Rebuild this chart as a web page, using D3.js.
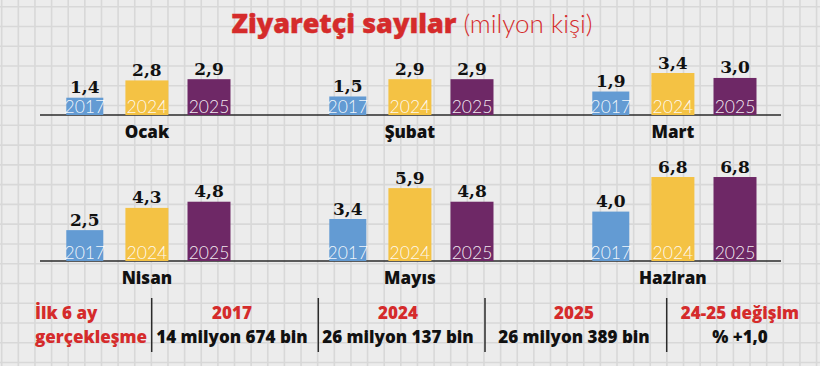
<!DOCTYPE html>
<html><head><meta charset="utf-8">
<script src="https://cdn.jsdelivr.net/npm/d3@7"></script>
<style>html,body{margin:0;padding:0;background:#ececec;}svg{display:block;}</style>
</head><body>
<svg id="c" width="820" height="366"></svg>
<script>
// ---- data ----
const months = ["Ocak", "Şubat", "Mart", "Nisan", "Mayıs", "Haziran"];
const years = ["2017", "2024", "2025"];
const v2017 = [1.4, 1.5, 1.9, 2.5, 3.4, 4.0];
const v2024 = [2.8, 2.9, 3.4, 4.3, 5.9, 6.8];
const v2025 = [2.9, 2.9, 3.0, 4.8, 4.8, 6.8];
const tableRowLabel = ["İlk 6 ay", "gerçekleşme"];
const tableHeaders = ["2017", "2024", "2025", "24-25 değişim"];
const tableValues = ["14 milyon 674 bin", "26 milyon 137 bin", "26 milyon 389 bin", "% +1,0"];
const titleBold = "Ziyaretçi sayılar";
const titleLight = "(milyon kişi)";

// ---- styles ----
const colors = {"2017": "#639bd3", "2024": "#f4c244", "2025": "#6e2866"};
const barW = {"2017": 37, "2024": 43, "2025": 43};
const red = "#d52b2b";
const sans = "'Open Sans', Lato, sans-serif";
const W = 820, H = 366;

const svg = d3.select("#c");
svg.append("rect").attr("width", W).attr("height", H).attr("fill", "#ececec");

// background grid
const gx = d3.range(1.7, W, 16.63), gy = d3.range(6.7, H, 19.77);
const grid = svg.append("g").attr("stroke", "#d8d8d8").attr("stroke-width", 1.6);
grid.selectAll("line.v").data(gx).join("line").attr("x1", d => d).attr("x2", d => d).attr("y1", 0).attr("y2", H);
grid.selectAll("line.h").data(gy).join("line").attr("y1", d => d).attr("y2", d => d).attr("x1", 0).attr("x2", W);

// title
const title = svg.append("text").attr("x", 412).attr("y", 33).attr("text-anchor", "middle")
  .attr("fill", red).attr("font-size", 28);
title.append("tspan").attr("font-family", sans).attr("font-weight", 800).attr("font-size", 27)
  .attr("stroke", red).attr("stroke-width", 0.4).text(titleBold + " ");
title.append("tspan").attr("font-family", "Lato, 'Open Sans', sans-serif").attr("font-weight", 300).attr("font-size", 26).text(titleLight);

// scales
const colX = d3.scalePoint().domain([0, 1, 2]).range([66, 592]);
const rowY = d3.scalePoint().domain([0, 1]).range([115, 261]);
const yearX = d3.scalePoint().domain(years).range([18.8, 143]);
const h = d3.scaleLinear().domain([0, 7]).range([0, 7 * 12.35]);

const series = {"2017": v2017, "2024": v2024, "2025": v2025};
const data = [];
months.forEach((m, i) => years.forEach(yr => data.push({m, i, yr, v: series[yr][i]})));

// baselines
svg.append("g").selectAll("line").data([0, 1]).join("line")
  .attr("x1", 40).attr("x2", 781).attr("y1", d => rowY(d)).attr("y2", d => rowY(d))
  .attr("stroke", "#2b2b2b").attr("stroke-width", 1.5);

const g = svg.append("g");
const cx = d => colX(d.i % 3) + yearX(d.yr);
const base = d => rowY(Math.floor(d.i / 3));

g.selectAll("rect").data(data).join("rect")
  .attr("x", d => cx(d) - barW[d.yr] / 2).attr("width", d => barW[d.yr])
  .attr("y", d => base(d) - h(d.v)).attr("height", d => h(d.v))
  .attr("fill", d => colors[d.yr]);

g.selectAll("text.yr").data(data).join("text").attr("class", "yr")
  .attr("x", cx).attr("y", d => base(d) - 2).attr("text-anchor", "middle")
  .attr("fill", "#fff").attr("fill-opacity", 0.92)
  .attr("font-family", "Lato, 'Open Sans', sans-serif").attr("font-weight", 300).attr("font-size", 17.5)
  .text(d => d.yr);

g.selectAll("text.val").data(data).join("text").attr("class", "val")
  .attr("x", cx).attr("y", d => base(d) - h(d.v) - 4.5).attr("text-anchor", "middle")
  .attr("fill", "#111").attr("font-family", "'DejaVu Serif', serif").attr("font-weight", "bold").attr("font-size", 17)
  .text(d => d3.format(".1f")(d.v).replace(".", ","));

// month labels
svg.append("g").selectAll("text").data(months).join("text")
  .attr("x", (m, i) => colX(i % 3) + yearX("2024")).attr("y", (m, i) => rowY(Math.floor(i / 3)) + 23)
  .attr("text-anchor", "middle").attr("fill", "#111")
  .attr("font-family", sans).attr("font-weight", 800).attr("font-size", 17)
  .text(m => m);

// table
const colCenters = [232, 398, 574, 740];
const seps = [151.7, 318.3, 485, 666.7];
const t = svg.append("g").attr("font-family", sans).attr("font-weight", 800).attr("font-size", 17);
t.selectAll("line").data(seps).join("line")
  .attr("x1", d => d).attr("x2", d => d).attr("y1", 298).attr("y2", 352)
  .attr("stroke", "#2b2b2b").attr("stroke-width", 1.5);
t.selectAll("text.rl").data(tableRowLabel).join("text").attr("class", "rl")
  .attr("x", 35).attr("y", (d, i) => 318.5 + i * 24.5).attr("fill", red).text(d => d);
t.selectAll("text.hd").data(tableHeaders).join("text").attr("class", "hd")
  .attr("x", (d, i) => colCenters[i]).attr("y", 318.5).attr("text-anchor", "middle").attr("fill", red).text(d => d);
t.selectAll("text.tv").data(tableValues).join("text").attr("class", "tv")
  .attr("x", (d, i) => colCenters[i]).attr("y", 343).attr("text-anchor", "middle").attr("fill", "#111").text(d => d);
</script>
</body></html>
